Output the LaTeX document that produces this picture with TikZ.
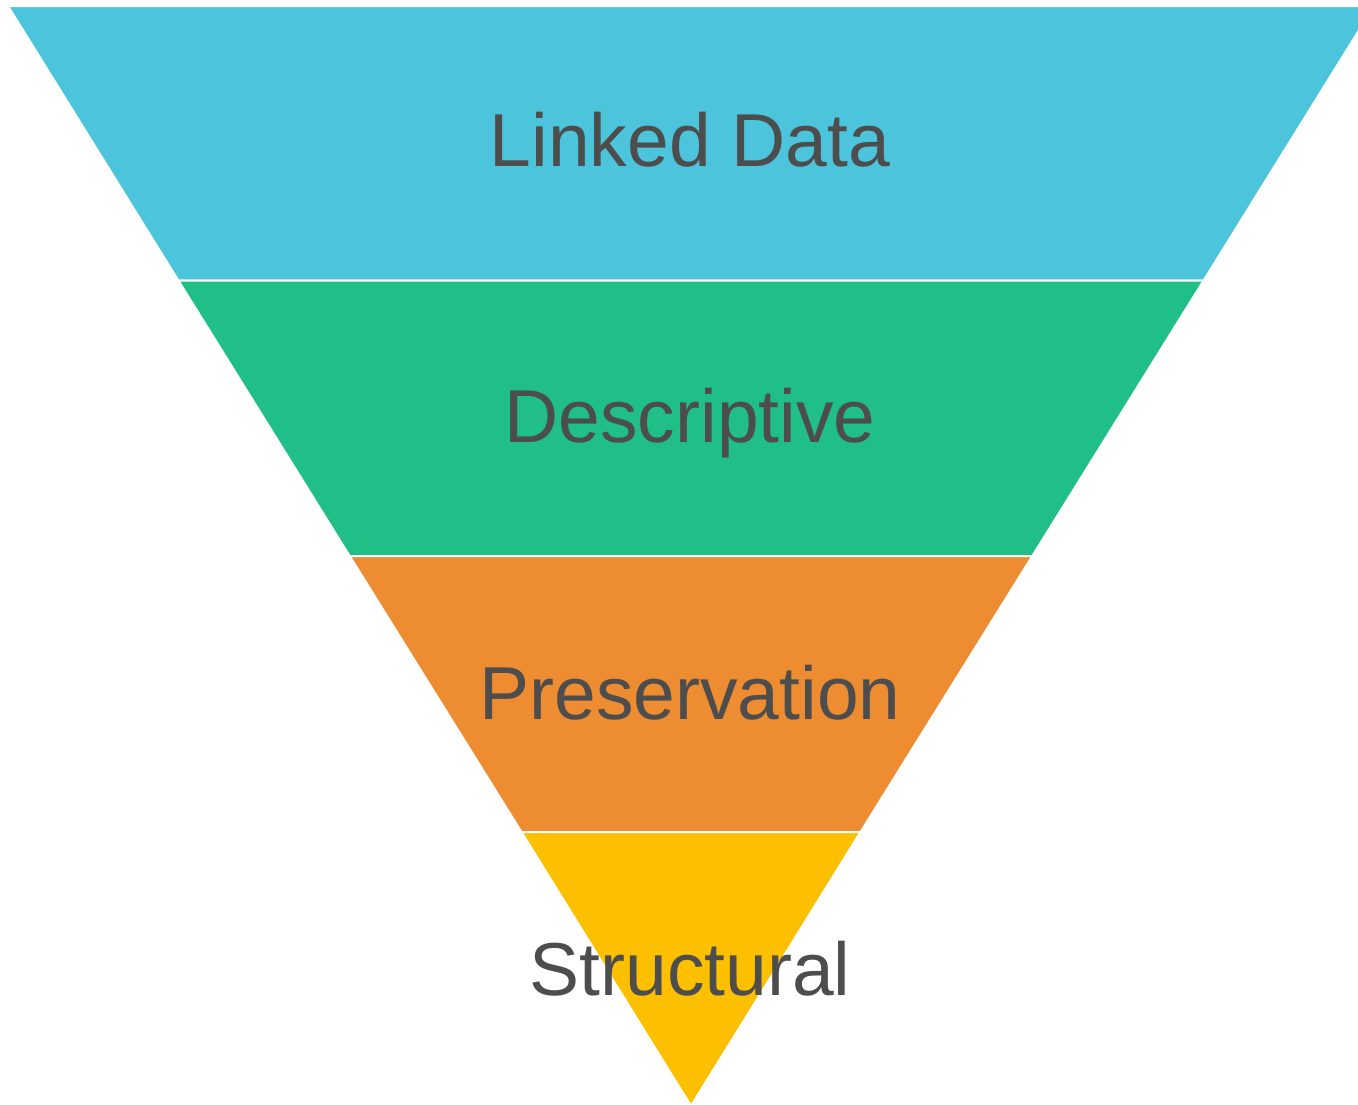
\documentclass[tikz,border=0pt]{standalone}
\usepackage{fontspec}
\setmainfont{Liberation Sans}
\definecolor{cblue}{HTML}{4BC4DC}
\definecolor{cgreen}{HTML}{1FBF87}
\definecolor{corange}{HTML}{ED8C30}
\definecolor{cyellow}{HTML}{FDC000}
\definecolor{ctext}{HTML}{4D4D4D}
\begin{document}
\begin{tikzpicture}[x=1pt,y=-1pt,
  band/.style={draw=white,line width=2pt,line join=miter},
  lbl/.style={anchor=base,text=ctext,inner sep=0pt,font=\fontsize{75}{80}\selectfont}]
\useasboundingbox (0,0) rectangle (1358,1104);
\begin{scope}
\clip (0,0) rectangle (1358,1104);
\fill[cblue] (8,6) -- (1374,6) -- (1203.6,280.5) -- (178.4,280.5) -- cycle;
\draw[band] (8,6) -- (1374,6) -- (1203.6,280.5) -- (178.4,280.5) -- cycle;
\fill[cgreen] (178.4,280.5) -- (1203.6,280.5) -- (1032.3,556) -- (349.7,556) -- cycle;
\draw[band] (178.4,280.5) -- (1203.6,280.5) -- (1032.3,556) -- (349.7,556) -- cycle;
\fill[corange] (349.7,556) -- (1032.3,556) -- (860.5,832) -- (521.5,832) -- cycle;
\draw[band] (349.7,556) -- (1032.3,556) -- (860.5,832) -- (521.5,832) -- cycle;
\fill[cyellow] (521.5,832) -- (860.5,832) -- (691,1104) -- cycle;
\draw[band] (521.5,832) -- (860.5,832) -- (691,1106) -- cycle;
\end{scope}
\node[lbl] (t1) at (690,166) {Linked Data};
\node[lbl] (t2) at (690,442) {Descriptive};
\node[lbl] (t3) at (690,719) {Preservation};
\node[lbl] (t4) at (690,995) {Structural};
\end{tikzpicture}
\end{document}
